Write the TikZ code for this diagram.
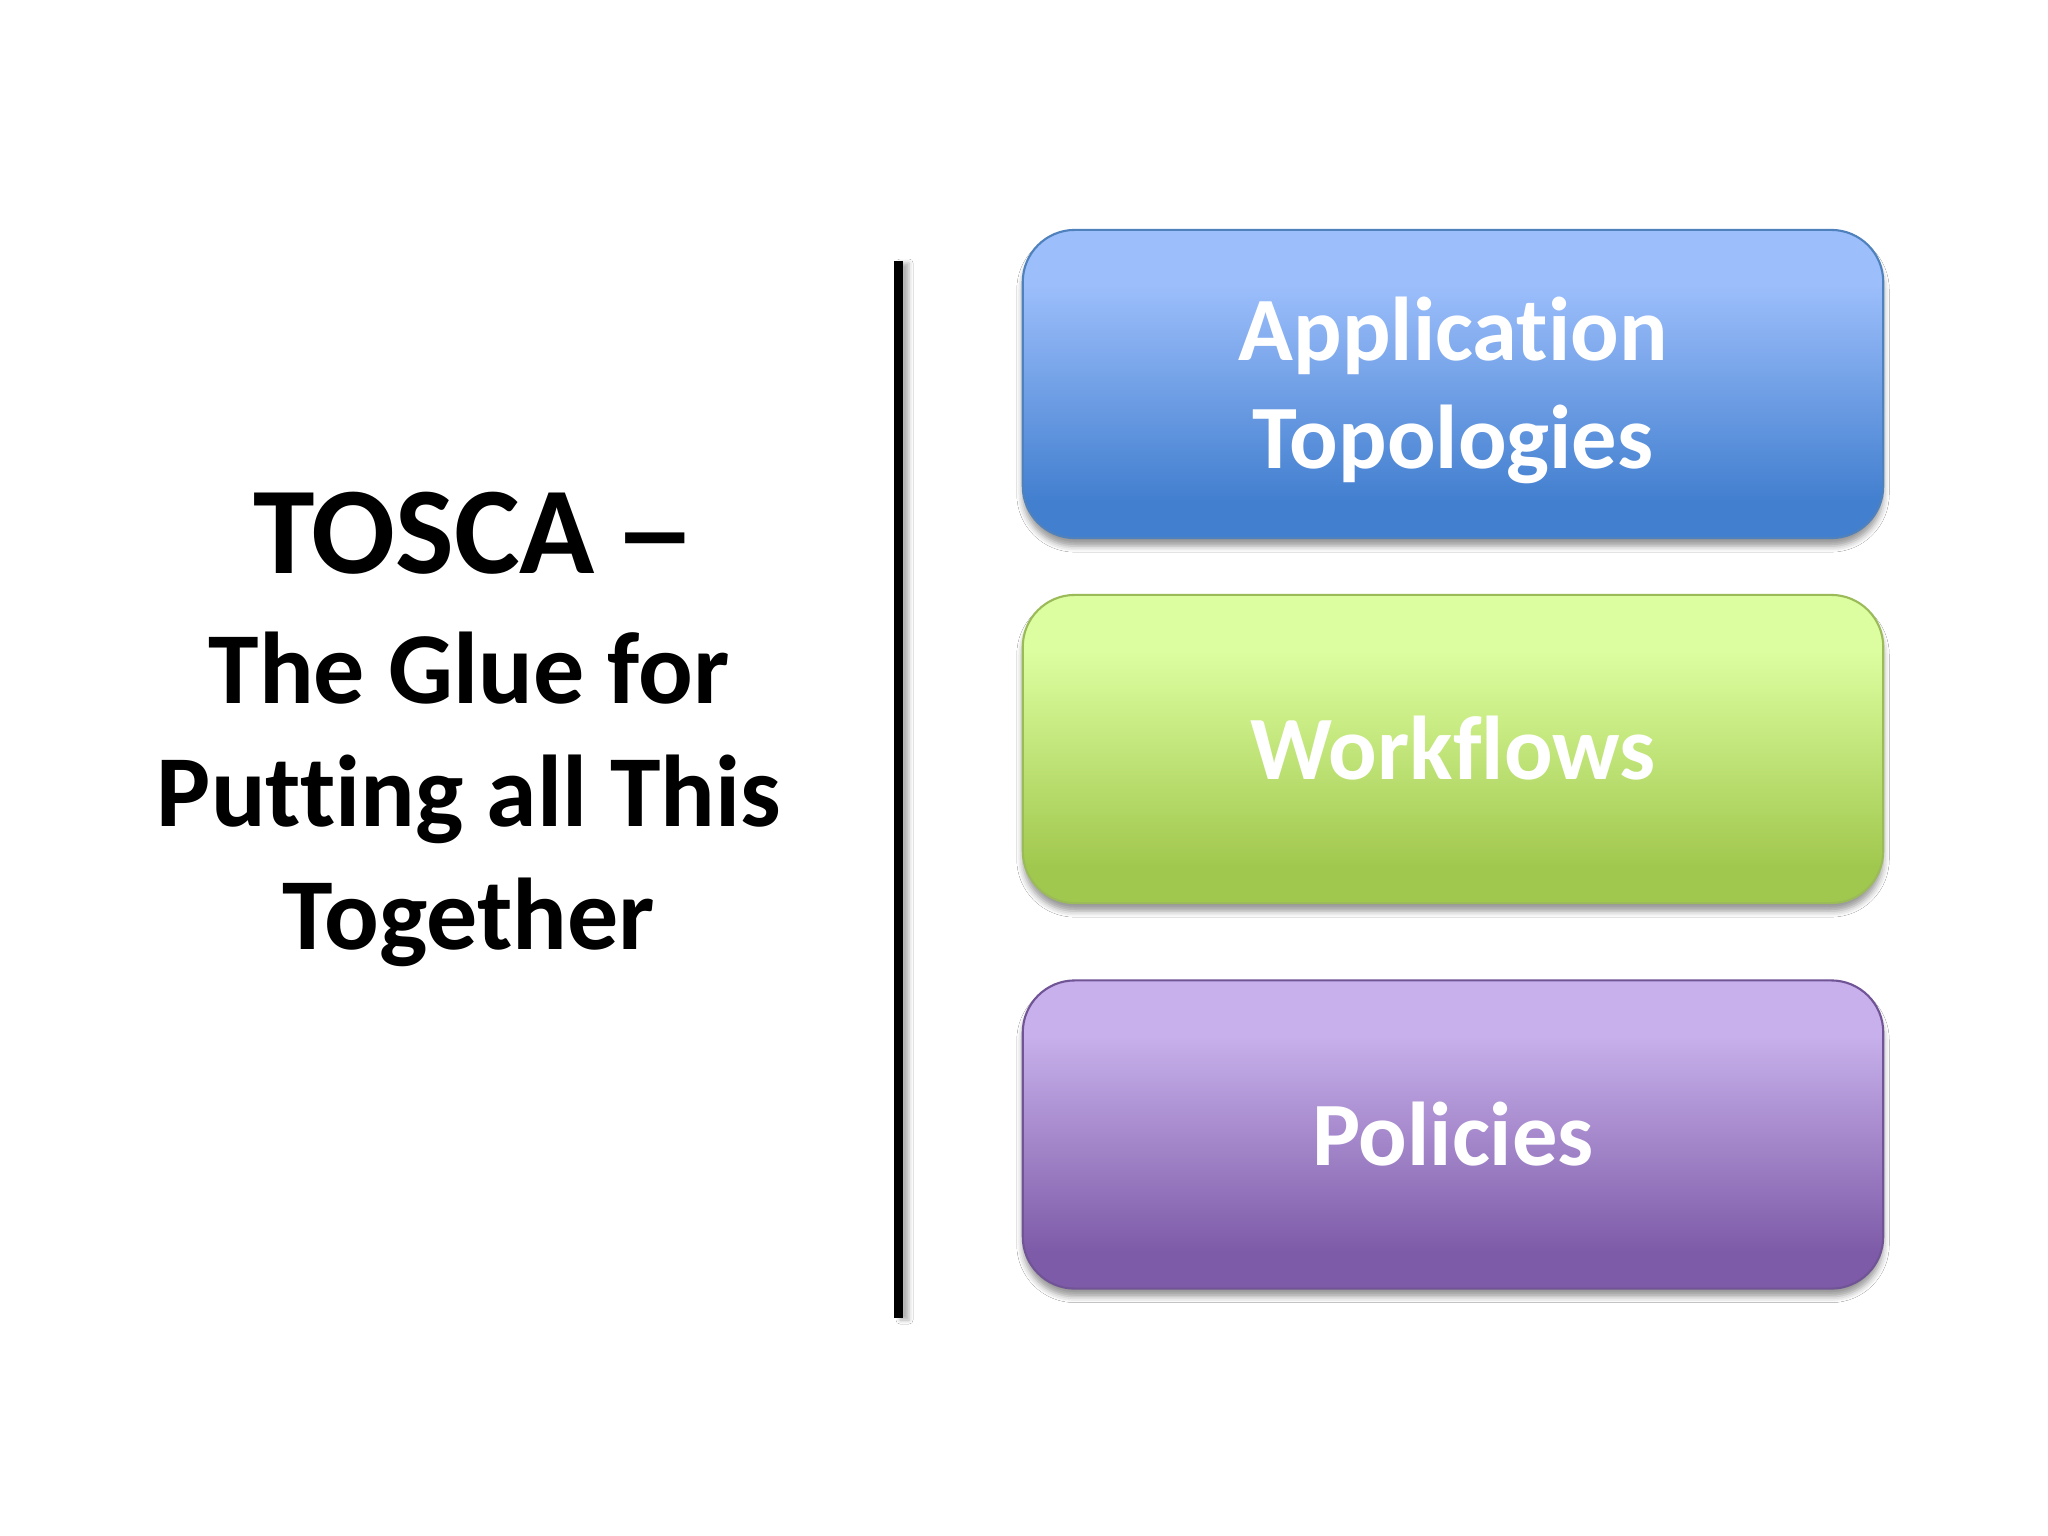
\documentclass[tikz,border=0pt]{standalone}
\usepackage{fontspec}
\usepackage{graphicx}
\setmainfont{Carlito}[Ligatures={NoCommon}]
\usetikzlibrary{shadows.blur}
\definecolor{blueT}{RGB}{156,190,251}
\definecolor{blueB}{RGB}{66,127,207}
\definecolor{blueE}{RGB}{79,129,189}
\definecolor{greenT}{RGB}{221,254,160}
\definecolor{greenB}{RGB}{161,200,78}
\definecolor{greenE}{RGB}{155,187,89}
\definecolor{purpT}{RGB}{199,176,235}
\definecolor{purpB}{RGB}{126,91,168}
\definecolor{purpE}{RGB}{112,84,150}
\pgfdeclareverticalshading{blueshade}{100bp}{color(0bp)=(blueB); color(25bp)=(blueB); color(31bp)=(blueB); color(66bp)=(blueT); color(75bp)=(blueT); color(100bp)=(blueT)}
\pgfdeclareverticalshading{greenshade}{100bp}{color(0bp)=(greenB); color(25bp)=(greenB); color(31bp)=(greenB); color(66bp)=(greenT); color(75bp)=(greenT); color(100bp)=(greenT)}
\pgfdeclareverticalshading{purpshade}{100bp}{color(0bp)=(purpB); color(25bp)=(purpB); color(31bp)=(purpB); color(66bp)=(purpT); color(75bp)=(purpT); color(100bp)=(purpT)}
\tikzset{
  boxstyle/.style={rectangle, rounded corners=0.52cm, minimum width=8.6cm, minimum height=3.08cm, line width=0.6pt, inner sep=0pt,
    blur shadow={shadow xshift=0cm, shadow yshift=-0.08cm, shadow blur radius=0.06cm, shadow opacity=40}},
  boxtext/.style={text=white, font=\fontsize{25.75pt}{30pt}\selectfont\bfseries, anchor=base, inner sep=0pt},
  titlebig/.style={text=black, font=\fontsize{35.3pt}{42pt}\selectfont\bfseries, anchor=base, inner sep=0pt},
  titletext/.style={text=black, font=\fontsize{29pt}{35pt}\selectfont\bfseries, anchor=base, inner sep=0pt}
}
\begin{document}
\begin{tikzpicture}[x=0.01cm, y=-0.01cm]
\useasboundingbox[fill=white] (0,0) rectangle (2048,1536);
% left title
\node[titlebig] (t1) at (475,573) {TOSCA\kern-2.8pt{} \scalebox{1.35}[1]{–}};
\node[titletext] (t2) at (469,703) {The Glue for};
\node[titletext] (t3) at (469,826) {Putting all This};
\node[titletext] (t4) at (469,949) {Together};
% divider
\fill[black, blur shadow={shadow xshift=0.06cm, shadow yshift=-0.02cm, shadow blur radius=0.04cm, shadow opacity=30}] (894,261) rectangle (903,1318);
% boxes
\node[boxstyle, draw=blueE, shading=blueshade] (b1) at (1453,384) {};
\node[boxstyle, draw=greenE, shading=greenshade] (b2) at (1453,749) {};
\node[boxstyle, draw=purpE, shading=purpshade] (b3) at (1453,1134.5) {};
\node[boxtext] (l1) at (1453,360) {Application};
\node[boxtext] (l2) at (1453,468) {Topologies};
\node[boxtext] (l3) at (1453,779) {Workflows};
\node[boxtext] (l4) at (1453,1165) {Policies};
\end{tikzpicture}
\end{document}
